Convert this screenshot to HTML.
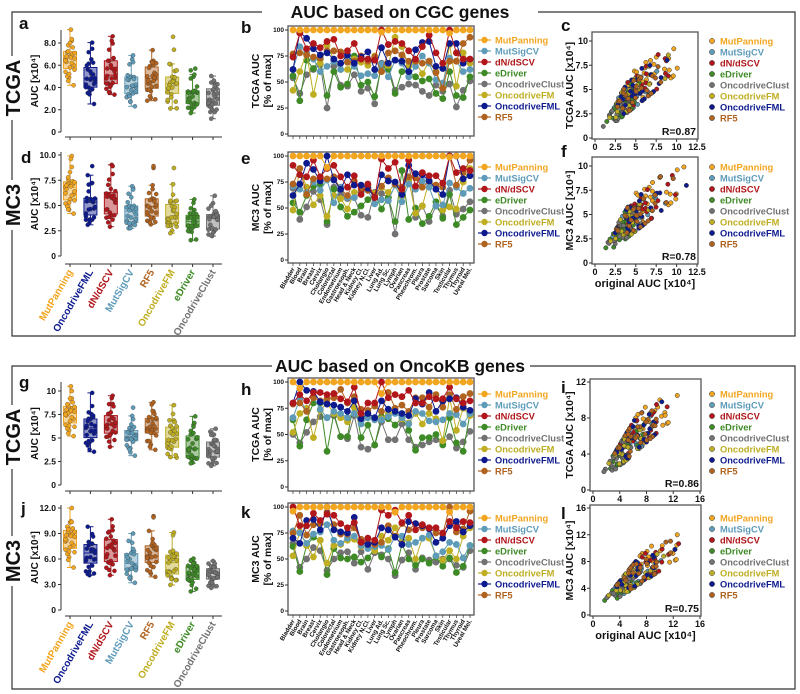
<!DOCTYPE html>
<html><head><meta charset="utf-8"><style>
html,body{margin:0;padding:0;background:#fff;}
svg{display:block;font-family:"Liberation Sans",Arial,sans-serif;font-weight:bold;}
</style></head><body>
<svg id="fig" width="800" height="694" viewBox="0 0 800 694" xmlns="http://www.w3.org/2000/svg"></svg>
<script>
const cancers=["Bladder","Blood","Brain","Breast","Cervix","Cholangio","Colorectal","Endometrium","Gastroesoph.","Head & Neck","Kidney Cl.","Kidney N.Cl.","Liver","Lung Ad.","Lung Sc.","Lymph","Ovarian","Pancreas","Pheochrom.","Pleura","Prostate","Sarcoma","Skin","Testicular","Thymus","Thyroid","Uveal Mel."];
const methods=["MutPanning","MutSigCV","dN/dSCV","eDriver","OncodriveClust","OncodriveFM","OncodriveFML","RF5"];
const boxOrder=["MutPanning","OncodriveFML","dN/dSCV","MutSigCV","RF5","OncodriveFM","eDriver","OncodriveClust"];
const colors={"MutPanning":"#f2a51f","MutSigCV":"#5e9bb9","dN/dSCV":"#b0161a","eDriver":"#3d8a26","OncodriveClust":"#727272","OncodriveFM":"#bfae22","OncodriveFML":"#0d1a8e","RF5":"#b0621f"};
const pctCgcTcga={
"MutPanning":[100,100,100,100,100,100,100,100,100,100,100,100,100,98,100,100,100,100,100,100,100,100,100,97,100,100,100],
"MutSigCV":[62,84,78,72,60,65,70,62,75,65,56,58,56,67,55,71,68,55,65,75,68,52,49,73,70,60,62],
"dN/dSCV":[74,97,82,87,83,89,91,75,80,87,72,72,71,100,86,89,87,80,72,84,95,78,68,100,78,72,72],
"eDriver":[56,32,71,63,72,37,60,45,48,75,47,50,36,65,62,39,60,60,55,51,53,39,34,60,37,35,55],
"OncodriveClust":[54,39,57,62,67,25,65,47,46,57,41,44,29,68,65,42,45,48,47,41,37,47,41,48,26,42,51],
"OncodriveFM":[42,60,78,38,68,85,72,62,62,72,69,66,75,60,66,93,84,65,69,58,70,60,45,86,46,78,68],
"OncodriveFML":[62,98,92,82,76,78,72,68,76,68,74,79,62,83,68,71,70,60,81,88,89,65,63,87,87,68,72],
"RF5":[77,78,76,74,73,80,80,79,69,70,75,70,74,60,78,80,76,70,70,68,70,59,44,70,70,87,93]};
const pctCgcMc3={
"MutPanning":[100,100,100,100,100,89,100,100,100,100,100,100,100,100,100,100,100,100,100,100,100,100,100,99,100,100,100],
"MutSigCV":[71,68,65,75,67,77,55,70,60,60,65,67,54,58,57,72,56,73,68,76,70,52,53,74,70,64,69],
"dN/dSCV":[91,82,80,96,80,88,91,80,70,81,63,73,60,97,88,94,68,96,71,84,81,81,74,100,84,88,86],
"eDriver":[55,46,62,71,73,37,68,51,42,46,52,58,64,49,60,37,86,39,50,35,42,56,40,63,34,41,48],
"OncodriveClust":[69,39,51,66,58,34,70,63,59,60,43,41,65,64,60,25,63,96,41,52,37,52,42,67,44,49,56],
"OncodriveFM":[48,88,70,53,62,42,62,59,49,65,66,71,64,70,65,74,61,77,45,52,76,72,48,51,49,75,88],
"OncodriveFML":[62,73,93,87,76,100,77,68,82,72,72,69,60,82,76,75,63,91,83,82,76,68,63,100,100,78,81],
"RF5":[73,88,63,78,79,78,80,68,62,76,68,67,62,71,79,73,70,80,79,70,76,72,70,100,72,84,96]};
const pctKbTcga={
"MutPanning":[100,94,100,100,100,100,100,100,100,100,100,100,100,89,100,100,100,100,100,100,100,100,100,100,100,100,100],
"MutSigCV":[66,84,72,86,74,66,72,70,66,70,60,66,64,64,67,70,66,60,72,70,63,62,64,70,69,60,70],
"dN/dSCV":[80,88,82,90,90,88,89,84,81,95,70,80,80,100,85,88,86,92,80,80,86,84,84,95,84,80,82],
"eDriver":[64,39,64,80,80,34,70,48,48,83,47,59,40,67,65,59,66,54,35,47,47,50,40,66,42,34,70],
"OncodriveClust":[50,42,52,62,67,66,68,48,46,68,38,36,40,62,45,45,60,45,38,40,43,45,41,48,37,43,53],
"OncodriveFM":[52,70,75,47,73,80,70,66,62,76,66,69,64,65,70,72,65,61,70,60,70,65,44,85,54,75,68],
"OncodriveFML":[80,100,92,91,81,79,78,76,72,82,65,70,66,82,74,72,70,68,84,79,90,72,82,84,85,76,73],
"RF5":[79,80,72,85,82,84,85,93,80,86,74,73,77,72,90,75,78,72,85,85,76,88,76,88,74,86,89]};
const pctKbMc3={
"MutPanning":[96,100,100,100,100,100,100,100,100,100,100,100,100,100,100,95,100,100,100,100,100,100,100,95,100,100,100],
"MutSigCV":[77,75,65,74,76,83,68,65,70,72,63,60,62,63,59,72,72,64,66,70,73,53,57,66,64,51,63],
"dN/dSCV":[100,82,82,94,87,93,92,84,80,85,66,70,68,97,92,97,85,92,78,83,80,80,75,86,80,86,85],
"eDriver":[62,38,63,71,68,35,60,51,50,52,47,51,60,52,60,37,64,50,44,50,46,52,43,51,37,43,63],
"OncodriveClust":[65,42,50,61,58,39,50,56,57,46,57,40,56,54,50,34,49,56,40,51,49,47,50,50,44,42,58],
"OncodriveFM":[53,76,63,52,68,46,63,64,68,69,62,64,58,72,68,80,67,70,50,70,70,53,49,58,50,72,80],
"OncodriveFML":[70,65,87,88,78,100,78,76,75,90,66,64,66,80,78,71,64,86,84,82,79,66,70,82,86,76,82],
"RF5":[75,92,73,83,84,95,83,74,74,80,69,66,64,66,82,72,84,78,84,80,80,75,74,100,76,79,96]};
const maxCgcTcga=[6.5,8.2,7.8,5.6,6.9,7.2,6.0,8.0,6.3,7.6,4.9,5.4,6.2,7.4,6.6,9.2,5.0,4.2,5.8,6.8,7.0,5.2,6.4,8.6,4.6,7.1,6.7];
const maxCgcMc3=[6.8,9.9,7.6,5.5,7.2,8.0,6.1,8.3,6.6,7.4,4.6,5.2,6.0,7.8,6.4,9.6,4.9,4.2,5.6,7.0,7.1,5.3,6.2,8.9,4.6,7.3,6.9];
const maxKbTcga=[7.6,9.8,8.4,6.2,8.0,8.6,7.0,9.2,7.4,8.8,5.8,6.4,7.2,8.6,7.8,10.5,6.0,5.2,6.8,8.0,8.2,6.3,7.5,10.0,5.5,8.3,7.9];
const maxKbMc3=[8.4,12.0,9.2,6.8,8.9,9.8,7.6,10.3,8.2,9.6,6.2,7.1,7.9,9.5,8.6,11.0,6.6,5.0,7.4,8.8,9.0,6.9,8.3,10.9,5.9,9.2,8.7];
const origRatioCgc=[1.0,1.1,0.8,1.2,0.7,1.4,1.05,0.85,1.5,0.95,1.25,0.75,1.5,0.85,1.1,1.05,0.8,1.4,1.0,0.75,1.3,1.1,1.5,0.9,0.85,1.2,0.9];
const origRatioKb=[1.1,1.05,0.8,1.35,0.8,1.25,0.95,0.85,1.5,1.05,1.3,0.8,1.45,0.85,1.0,1.2,0.85,1.45,1.1,0.8,1.25,0.95,1.5,1.0,0.8,1.3,0.95];
const R_values=["R=0.87","R=0.78","R=0.86","R=0.75"];

const NS="http://www.w3.org/2000/svg";
const svg=document.getElementById("fig");
function mk(tag,attrs,parent){const e=document.createElementNS(NS,tag);for(const k in attrs)e.setAttribute(k,attrs[k]);(parent||svg).appendChild(e);return e;}
function txt(s,attrs,parent){const e=mk("text",attrs,parent);e.textContent=s;return e;}
const defs=mk("defs",{});

function section(y0,y1,title,tx0,tx1,nm){
  const g=mk("g",{});
  
  
  mk("path",{d:`M${tx0},${y0} H12 V${y1} H795 V${y0} H${tx1}`,fill:"none",stroke:"#333","stroke-width":1.2},g);
  const t=txt(title,{x:400,y:y0+6,"text-anchor":"middle","font-size":17.5,fill:"#111"},g);
  
  
}
section(12,336,"AUC based on CGC genes",262,538,"cgc-section");
section(366,689,"AUC based on OncoKB genes",272,530,"oncokb-section");
function sideLabel(s,cy){
  mk("rect",{x:2,y:cy-s.length*7-4,width:22,height:s.length*14+8,fill:"#fff"});
  const t=txt(s,{x:0,y:0,transform:`translate(20,${cy}) rotate(-90)`,"text-anchor":"middle","font-size":20,fill:"#111"});
  
  
}
sideLabel("TCGA",88);sideLabel("MC3",205);sideLabel("TCGA",437);sideLabel("MC3",561);
function letter(s,x,y){const t=txt(s,{x:x,y:y,"font-size":17,fill:"#111"});}

function quant(a,p){const s=[...a].sort((x,y)=>x-y);const h=(s.length-1)*p;const l=Math.floor(h);return s[l]+(s[Math.min(l+1,s.length-1)]-s[l])*(h-l);}

function boxPanel(pct,mx,cfg){
  const g=mk("g",{});
  
  
  const ys=v=>cfg.y0+(cfg.y1-cfg.y0)*(v/cfg.v1);
  const xs=i=>70+i*20.43;
  mk("line",{x1:61,x2:61,y1:cfg.top,y2:cfg.y0,stroke:"#333","stroke-width":1},g);
  cfg.ticks.forEach((v,i)=>{const y=ys(v);mk("line",{x1:58,x2:61,y1:y,y2:y,stroke:"#333"},g);
    const t=txt(cfg.tickLabels[i],{x:56,y:y+3,"text-anchor":"end","font-size":8.5,fill:"#111"},g);
    
    });
  const yt=txt("AUC [x10\u2074]",{transform:`translate(38,${(cfg.top+cfg.y0)/2}) rotate(-90)`,"text-anchor":"middle","font-size":10,fill:"#111"},g);
  
  
  mk("line",{x1:65,x2:222,y1:cfg.xa,y2:cfg.xa,stroke:"#333"},g);
  boxOrder.forEach((m,i)=>{
    const cx=xs(i);const c=colors[m];
    mk("line",{x1:cx,x2:cx,y1:cfg.xa,y2:cfg.xa+3,stroke:"#333"},g);
    const vals=pct[m].map((p,j)=>p*mx[j]/100);
    const q1=quant(vals,.25),q2=quant(vals,.5),q3=quant(vals,.75),iqr=q3-q1;
    const lo=Math.min(...vals.filter(v=>v>=q1-1.5*iqr)),hi=Math.max(...vals.filter(v=>v<=q3+1.5*iqr));
    const bg=mk("g",{},g);
    
    
    mk("line",{x1:cx,x2:cx,y1:ys(hi),y2:ys(q3),stroke:c,"stroke-width":1},bg);
    mk("line",{x1:cx,x2:cx,y1:ys(q1),y2:ys(lo),stroke:c,"stroke-width":1},bg);
    mk("line",{x1:cx-3,x2:cx+3,y1:ys(hi),y2:ys(hi),stroke:c},bg);
    mk("line",{x1:cx-3,x2:cx+3,y1:ys(lo),y2:ys(lo),stroke:c},bg);
    mk("rect",{x:cx-6.5,y:ys(q3),width:13,height:ys(q1)-ys(q3),fill:c,"fill-opacity":.45,stroke:c,"stroke-width":1},bg);
    mk("line",{x1:cx-6.5,x2:cx+6.5,y1:ys(q2),y2:ys(q2),stroke:c,"stroke-width":1},bg);
    vals.forEach((v,j)=>{const jx=((j*7)%11-5)*0.9;
      const p=mk("circle",{cx:cx+jx,cy:ys(v),r:2.1,fill:c,stroke:"#333","stroke-width":.3},bg);
      
      });
    if(cfg.labels){const t=txt(m,{transform:`translate(${cx+3},${cfg.xa+8}) rotate(-60)`,"text-anchor":"end","font-size":10,fill:c},g);
      
      }
  });
}
boxPanel(pctCgcTcga,maxCgcTcga,{name:"panel-a-boxplot",y0:132,y1:43,v1:8,top:30,xa:137,ticks:[0,2,4,6,8],tickLabels:["0","2.0","4.0","6.0","8.0"]});
boxPanel(pctCgcMc3,maxCgcMc3,{name:"panel-d-boxplot",y0:256,y1:155,v1:10,top:152,xa:264,ticks:[0,2.5,5,7.5,10],tickLabels:["0","2.5","5.0","7.5","10.0"],labels:true});
boxPanel(pctKbTcga,maxKbTcga,{name:"panel-g-boxplot",y0:485,y1:391,v1:10,top:382,xa:491,ticks:[0,2.5,5,7.5,10],tickLabels:["0","2.5","5","7.5","10"]});
boxPanel(pctKbMc3,maxKbMc3,{name:"panel-j-boxplot",y0:610,y1:508,v1:12,top:505,xa:616,ticks:[0,3,6,9,12],tickLabels:["0","3.0","6.0","9.0","12.0"],labels:true});

function linePanel(pct,cfg){
  const g=mk("g",{});
  
  
  const ys=v=>cfg.y0+(cfg.y100-cfg.y0)*v/100;
  const xs=i=>293+i*(177/26);
  mk("rect",{x:288,y:cfg.ft,width:186,height:cfg.fb-cfg.ft,fill:"#fff",stroke:"#555","stroke-width":1.3},g);
  [0,25,50,75,100].forEach(v=>{const y=ys(v);mk("line",{x1:285,x2:288,y1:y,y2:y,stroke:"#333"},g);
    const t=txt(String(v),{x:284,y:y+2.2,"text-anchor":"end","font-size":6.5,fill:"#111"},g);
    
    });
  cancers.forEach((c,i)=>{mk("line",{x1:xs(i),x2:xs(i),y1:cfg.fb,y2:cfg.fb+3,stroke:"#333","stroke-width":.7},g);
    if(cfg.labels){const t=txt(c,{transform:`translate(${xs(i)+2},${cfg.fb+6}) rotate(-60)`,"text-anchor":"end","font-size":6.3,fill:"#111"},g);
      
      }});
  const cy=(cfg.ft+cfg.fb)/2;
  const t1=txt(cfg.title,{transform:`translate(259,${cy}) rotate(-90)`,"text-anchor":"middle","font-size":10.5,fill:"#111"},g);
  
  
  const t2=txt("[% of max]",{transform:`translate(271,${cy}) rotate(-90)`,"text-anchor":"middle","font-size":10.5,fill:"#111"},g);
  
  
  const order=["OncodriveClust","eDriver","OncodriveFM","MutSigCV","RF5","OncodriveFML","dN/dSCV","MutPanning"];
  order.forEach(m=>{const c=colors[m];const sg=mk("g",{},g);
    
    
    mk("polyline",{points:pct[m].map((v,i)=>xs(i)+","+ys(v)).join(" "),fill:"none",stroke:c,"stroke-width":1},sg);
    pct[m].forEach((v,i)=>{const p=mk("circle",{cx:xs(i),cy:ys(v),r:3.4,fill:c},sg);
      
      });});
  methods.forEach((m,k)=>{const y=cfg.leg+k*11;const c=colors[m];const lg=mk("g",{},g);
    
    
    mk("line",{x1:478,x2:491,y1:y,y2:y,stroke:c,"stroke-width":1.2},lg);
    mk("circle",{cx:484.5,cy:y,r:3.2,fill:c},lg);
    txt(m,{x:495,y:y+3.3,"font-size":9.3,fill:c},lg);});
}
linePanel(pctCgcTcga,{name:"panel-b-lines",ft:26,fb:136,y100:30,y0:134,title:"TCGA AUC",leg:40});
linePanel(pctCgcMc3,{name:"panel-e-lines",ft:152,fb:263,y100:156,y0:260,title:"MC3 AUC",leg:167,labels:true});
linePanel(pctKbTcga,{name:"panel-h-lines",ft:378,fb:491,y100:382,y0:487,title:"TCGA AUC",leg:394});
linePanel(pctKbMc3,{name:"panel-k-lines",ft:503,fb:615,y100:507,y0:611,title:"MC3 AUC",leg:518,labels:true});

let clipN=0;
function scatter(pct,mx,ratio,cfg){
  const g=mk("g",{});
  
  
  const xs=v=>cfg.x0+(cfg.x1-cfg.x0)*v/cfg.xmax;
  const ys=v=>cfg.y0+(cfg.y1-cfg.y0)*v/cfg.ymax;
  const cid="clip"+(clipN++);
  const cp=mk("clipPath",{id:cid},defs);
  mk("rect",{x:cfg.fx0,y:cfg.fy0,width:cfg.fx1-cfg.fx0,height:cfg.fy1-cfg.fy0},cp);
  mk("rect",{x:cfg.fx0,y:cfg.fy0,width:cfg.fx1-cfg.fx0,height:cfg.fy1-cfg.fy0,fill:"#fff",stroke:"#555","stroke-width":1.3},g);
  cfg.xt.forEach((v,i)=>{const x=xs(v);mk("line",{x1:x,x2:x,y1:cfg.fy1,y2:cfg.fy1+3,stroke:"#333"},g);
    const t=txt(cfg.xtl[i],{x:x,y:cfg.fy1+11,"text-anchor":"middle","font-size":9,fill:"#111"},g);
    
    });
  cfg.yt.forEach((v,i)=>{const y=ys(v);mk("line",{x1:cfg.fx0-3,x2:cfg.fx0,y1:y,y2:y,stroke:"#333"},g);
    const t=txt(cfg.ytl[i],{x:cfg.fx0-4,y:y+3,"text-anchor":"end","font-size":9,fill:"#111"},g);
    
    });
  const yt=txt(cfg.title,{transform:`translate(573,${(cfg.fy0+cfg.fy1)/2}) rotate(-90)`,"text-anchor":"middle","font-size":10.5,fill:"#111"},g);
  
  
  if(cfg.xlab){const xt=txt("original AUC [x10\u2074]",{x:(cfg.fx0+cfg.fx1)/2,y:cfg.fy1+23,"text-anchor":"middle","font-size":11,fill:"#111"},g);
    
    }
  const pg=mk("g",{"clip-path":`url(#${cid})`},g);
  methods.forEach(m=>{pct[m].forEach((p,j)=>{const yv=p*mx[j]/100;const xv=yv*ratio[j];
    const pt=mk("circle",{cx:xs(xv),cy:ys(yv),r:2.2,fill:colors[m],stroke:"#333","stroke-width":.5},pg);
    
    });});
  const rt=txt(cfg.r,{x:cfg.fx1-2,y:cfg.fy1-4,"text-anchor":"end","font-size":10.5,fill:"#111"},g);
  
  
  methods.forEach((m,k)=>{const y=cfg.leg+k*11;const c=colors[m];const lg=mk("g",{},g);
    
    
    mk("circle",{cx:712,cy:y,r:2.6,fill:c,stroke:"#333","stroke-width":.5},lg);
    txt(m,{x:720,y:y+3.3,"font-size":9.3,fill:c},lg);});
}
scatter(pctCgcTcga,maxCgcTcga,origRatioCgc,{name:"panel-c-scatter",fx0:592,fx1:698,fy0:32,fy1:139,x0:595,x1:697,xmax:12.5,y0:138,y1:41,ymax:10,xt:[0,2.5,5,7.5,10,12.5],xtl:["0","2.5","5","7.5","10","12.5"],yt:[0,2.5,5,7.5,10],ytl:["0","2.5","5","7.5","10"],title:"TCGA AUC [x10\u2074]",r:R_values[0],leg:41});
scatter(pctCgcMc3,maxCgcMc3,origRatioCgc,{name:"panel-f-scatter",fx0:592,fx1:698,fy0:157,fy1:264,x0:595,x1:697,xmax:12.5,y0:263,y1:166,ymax:10,xt:[0,2.5,5,7.5,10,12.5],xtl:["0","2.5","5","7.5","10","12.5"],yt:[0,2.5,5,7.5,10],ytl:["0","2.5","5","7.5","10"],title:"MC3 AUC [x10\u2074]",r:R_values[1],leg:167,xlab:true});
scatter(pctKbTcga,maxKbTcga,origRatioKb,{name:"panel-i-scatter",fx0:590,fx1:701,fy0:379,fy1:491,x0:593,x1:700,xmax:16,y0:490,y1:382,ymax:12,xt:[0,4,8,12,16],xtl:["0","4","8","12","16"],yt:[0,4,8,12],ytl:["0","4","8","12"],title:"TCGA AUC [x10\u2074]",r:R_values[2],leg:394});
scatter(pctKbMc3,maxKbMc3,origRatioKb,{name:"panel-l-scatter",fx0:590,fx1:701,fy0:505,fy1:616,x0:593,x1:700,xmax:16,y0:615,y1:508,ymax:16,xt:[0,4,8,12,16],xtl:["0","4","8","12","16"],yt:[0,4,8,12,16],ytl:["0","4","8","12","16"],title:"MC3 AUC [x10\u2074]",r:R_values[3],leg:518,xlab:true});

[["a",19,29],["b",241,33],["c",561,31],["d",21,163],["e",241,164],["f",561,157],["g",19,388],["h",241,395],["i",561,393],["j",21,514],["k",241,518],["l",561,519]].forEach(a=>letter(a[0],a[1],a[2]));
</script>
</body></html>
